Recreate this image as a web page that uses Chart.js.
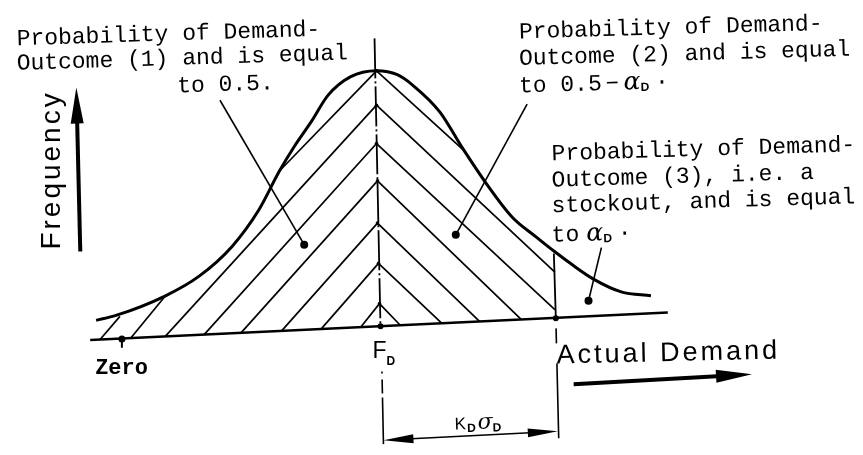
<!DOCTYPE html>
<html>
<head>
<meta charset="utf-8">
<script src="https://cdn.jsdelivr.net/npm/chart.js@4/dist/chart.umd.min.js"></script>
<style>
html, body { margin: 0; background: #fff; }
#wrap { width: 863px; height: 455px; }
</style>
</head>
<body>
<div id="wrap"><canvas id="chart"></canvas></div>
<script>
// x = demand in sigma units measured from F_D, y = frequency (baseline = 0 under F_D)
var curveX = [-2.87, -2.67, -2.17, -1.83, -1.50, -1.23, -1.02, -0.87, -0.70, -0.53, -0.30, -0.04, 0.17, 0.33, 0.60, 0.83, 1.07, 1.33, 1.57, 1.77, 1.93, 2.15, 2.43, 2.73];
var curveY = [0.06, 0.11, 0.31, 0.51, 0.81, 1.18, 1.58, 1.83, 2.08, 2.35, 2.54, 2.60, 2.56, 2.45, 2.18, 1.81, 1.45, 1.11, 0.91, 0.75, 0.63, 0.48, 0.35, 0.31];

var baseX = [-2.93, 2.90];
var baseY = [-0.14, 0.14];

// hatching: chevrons from the F_D line
var apexX = [-0.04, -0.04, -0.04, -0.03, -0.03, -0.02, -0.01];
var apexY = [2.60, 2.25, 1.86, 1.48, 1.05, 0.64, 0.23];
var hatchLeftX = [-1.02, -2.17, -1.78, -1.41, -1.00, -0.60, -0.20];
var hatchLeftY = [1.58, -0.10, -0.085, -0.07, -0.05, -0.03, -0.01];
var hatchRightX = [0.83, 1.76, 1.76, 1.42, 1.00, 0.62, 0.20];
var hatchRightY = [1.80, 0.55, 0.17, 0.07, 0.05, 0.03, 0.01];
// short hatches in the left tail
var tailTopX = [-2.17, -2.63];
var tailTopY = [0.31, 0.10];
var tailBotX = [-2.52, -2.83];
var tailBotY = [-0.12, -0.135];

var meanX = [-0.06, 0.00, 0.015, 0.03];
var meanY = [2.93, 0.00, -0.46, -1.20];
var stockX = [1.75, 1.77, 1.80];
var stockY = [0.74, 0.08, -1.18];
var zeroTickX = [-2.61, -2.61];
var zeroTickY = [-0.13, -0.22];

var dotX = [-2.61, 0.00, 1.77, -0.77, 0.76, 2.10];
var dotY = [-0.13, 0.00, 0.08, 0.83, 0.93, 0.26];
var dotR = [3.5, 3, 3, 4, 4, 4];

var leaderFromX = [-1.62, 1.48, 2.23];
var leaderFromY = [2.30, 2.26, 0.80];
var leaderToX = [-0.77, 0.76, 2.10];
var leaderToY = [0.83, 0.93, 0.26];

var freqArrowX = [-3.03, -3.07];
var freqArrowY = [0.76, 2.43];
var demandArrowX = [1.95, 3.75];
var demandArrowY = [-0.59, -0.49];
var dimArrowX = [0.03, 1.79];
var dimArrowY = [-1.16, -1.07];

var MONO = '23px "Liberation Mono", "DejaVu Sans Mono", monospace';
var ALPHA = 'italic 25px "DejaVu Serif", serif';
var SUB = 'bold 12px "Liberation Sans", sans-serif';
var MINUS = '22px "Liberation Sans", sans-serif';

var labels = [
	{ x: -3.67, y: 2.86, rot: -1.8, runs: [{ t: 'Probability of Demand-', f: MONO }] },
	{ x: -3.67, y: 2.61, rot: -1.8, runs: [{ t: 'Outcome (1) and is equal', f: MONO }] },
	{ x: -2.05, y: 2.38, rot: -1.8, runs: [{ t: 'to 0.5.', f: MONO }] },

	{ x: 1.40, y: 2.93, rot: -1.6, runs: [{ t: 'Probability of Demand-', f: MONO }] },
	{ x: 1.40, y: 2.66, rot: -1.6, runs: [{ t: 'Outcome (2) and is equal', f: MONO }] },
	{ x: 1.40, y: 2.38, rot: -1.6, runs: [{ t: 'to 0.5', f: MONO, gap: 4 }, { t: '\u2212', f: MINUS, gap: 5 }, { t: '\u03b1', f: ALPHA }, { t: 'D', f: SUB, dy: 2, gap: 6 }, { t: '\u00b7', f: MONO }] },

	{ x: 1.73, y: 1.69, rot: -1.7, runs: [{ t: 'Probability of Demand-', f: MONO }] },
	{ x: 1.73, y: 1.42, rot: -1.7, runs: [{ t: 'Outcome (3), i.e. a', f: MONO }] },
	{ x: 1.73, y: 1.16, rot: -1.7, runs: [{ t: 'stockout, and is equal', f: MONO }] },
	{ x: 1.73, y: 0.86, rot: -1.7, runs: [{ t: 'to', f: MONO, gap: 7 }, { t: '\u03b1', f: ALPHA }, { t: 'D', f: SUB, dy: 2, gap: 6 }, { t: '\u00b7', f: MONO }] },

	{ x: -2.88, y: -0.49, rot: 0, runs: [{ t: 'Zero', f: 'bold 22px "Liberation Mono", monospace' }] },
	{ x: -0.08, y: -0.32, rot: 0, runs: [{ t: 'F', f: '23px "Liberation Sans", sans-serif' }, { t: 'D', f: SUB, dy: 7 }] },
	{ x: 1.78, y: -0.38, rot: -1.3, runs: [{ t: 'Actual Demand', f: '27px "Liberation Sans", sans-serif', ls: '3px' }] },
	{ x: -3.23, y: 0.78, rot: -90, runs: [{ t: 'Frequency', f: '28px "Liberation Sans", sans-serif', ls: '3px' }] },
	{ x: 0.75, y: -1.05, rot: -1.5, runs: [{ t: 'K', f: '17px "Liberation Sans", sans-serif', gap: 1 }, { t: 'D', f: SUB, dy: 3, gap: 2 }, { t: '\u03c3', f: 'italic 22px "DejaVu Serif", serif' }, { t: 'D', f: SUB, dy: 3 }] }
];

function seg(x1, y1, x2, y2, w, dash) {
	return {
		data: [{ x: x1, y: y1 }, { x: x2, y: y2 }],
		borderColor: '#000',
		borderWidth: w,
		borderDash: dash || [],
		pointRadius: 0,
		fill: false
	};
}

var datasets = [];

// curve
datasets.push({
	data: curveX.map(function (v, i) { return { x: v, y: curveY[i] }; }),
	borderColor: '#000',
	borderWidth: 3,
	pointRadius: 0,
	cubicInterpolationMode: 'monotone',
	fill: false
});
datasets.push(seg(baseX[0], baseY[0], baseX[1], baseY[1], 2.5));

for (var i = 0; i < apexX.length; i++) {
	datasets.push(seg(apexX[i], apexY[i], hatchLeftX[i], hatchLeftY[i], 1.7));
	datasets.push(seg(apexX[i], apexY[i], hatchRightX[i], hatchRightY[i], 1.7));
}
for (var i = 0; i < tailTopX.length; i++) {
	datasets.push(seg(tailTopX[i], tailTopY[i], tailBotX[i], tailBotY[i], 1.7));
}

// F_D line: above the baseline, then below the label
datasets.push(seg(meanX[0], meanY[0], meanX[1], meanY[1], 1.8, [40, 3, 2, 3]));
datasets.push(seg(meanX[2], meanY[2], meanX[3], meanY[3], 1.6, [2, 6, 14, 4, 60, 6]));
datasets.push(seg(stockX[0], stockY[0], stockX[1], stockY[1], 1.8));
datasets.push(seg(stockX[1], stockY[1], stockX[2], stockY[2], 1.6, [2, 8, 15, 20, 75, 10]));
datasets.push(seg(zeroTickX[0], zeroTickY[0], zeroTickX[1], zeroTickY[1], 2));

for (var i = 0; i < leaderFromX.length; i++) {
	datasets.push(seg(leaderFromX[i], leaderFromY[i], leaderToX[i], leaderToY[i], 1.6));
}

// dots
datasets.push({
	data: dotX.map(function (v, i) { return { x: v, y: dotY[i] }; }).concat(apexX.map(function (v, i) { return { x: v, y: apexY[i] }; })),
	showLine: false,
	pointRadius: dotR.concat(apexX.map(function () { return 1.8; })),
	pointBackgroundColor: '#000',
	pointBorderWidth: 0
});

function arrow(ctx, x1, y1, x2, y2, w, len, half, both) {
	ctx.lineWidth = w;
	var a = Math.atan2(y2 - y1, x2 - x1);
	var ux = Math.cos(a), uy = Math.sin(a);
	var sx = both ? x1 + ux * len * 0.6 : x1;
	var sy = both ? y1 + uy * len * 0.6 : y1;
	ctx.beginPath();
	ctx.moveTo(sx, sy);
	ctx.lineTo(x2 - ux * len * 0.6, y2 - uy * len * 0.6);
	ctx.stroke();
	function head(tx, ty, dx, dy) {
		ctx.beginPath();
		ctx.moveTo(tx, ty);
		ctx.lineTo(tx - dx * len - dy * half, ty - dy * len + dx * half);
		ctx.lineTo(tx - dx * len + dy * half, ty - dy * len - dx * half);
		ctx.closePath();
		ctx.fill();
	}
	head(x2, y2, ux, uy);
	if (both) head(x1, y1, -ux, -uy);
}

var drawExtras = {
	id: 'drawExtras',
	afterDatasetsDraw: function (chart) {
		var ctx = chart.ctx, xs = chart.scales.x, ys = chart.scales.y;
		function px(v) { return xs.getPixelForValue(v); }
		function py(v) { return ys.getPixelForValue(v); }
		ctx.save();
		ctx.fillStyle = '#000';
		ctx.strokeStyle = '#000';
		arrow(ctx, px(freqArrowX[0]), py(freqArrowY[0]), px(freqArrowX[1]), py(freqArrowY[1]), 4, 36, 6.5, false);
		arrow(ctx, px(demandArrowX[0]), py(demandArrowY[0]), px(demandArrowX[1]), py(demandArrowY[1]), 4, 36, 6.5, false);
		arrow(ctx, px(dimArrowX[0]), py(dimArrowY[0]), px(dimArrowX[1]), py(dimArrowY[1]), 1.6, 30, 4.5, true);

		ctx.textBaseline = 'alphabetic';
		labels.forEach(function (l) {
			ctx.save();
			ctx.translate(px(l.x), py(l.y));
			ctx.rotate(l.rot * Math.PI / 180);
			var cx = 0;
			l.runs.forEach(function (r) {
				ctx.font = r.f;
				ctx.letterSpacing = r.ls || '0px';
				ctx.fillText(r.t, cx, r.dy || 0);
				cx += ctx.measureText(r.t).width + (r.gap || 0);
			});
			ctx.restore();
		});
		ctx.restore();
	}
};

var chart = new Chart(document.getElementById('chart'), {
	type: 'line',
	data: { datasets: datasets },
	options: {
		responsive: true,
		maintainAspectRatio: false,
		animation: false,
		layout: { padding: 0 },
		plugins: { legend: { display: false }, tooltip: { enabled: false } },
		scales: {
			x: { type: 'linear', min: -3.80, max: 4.83, display: false },
			y: { type: 'linear', min: -1.27, max: 3.28, display: false }
		}
	},
	plugins: [drawExtras]
});
</script>
</body>
</html>
